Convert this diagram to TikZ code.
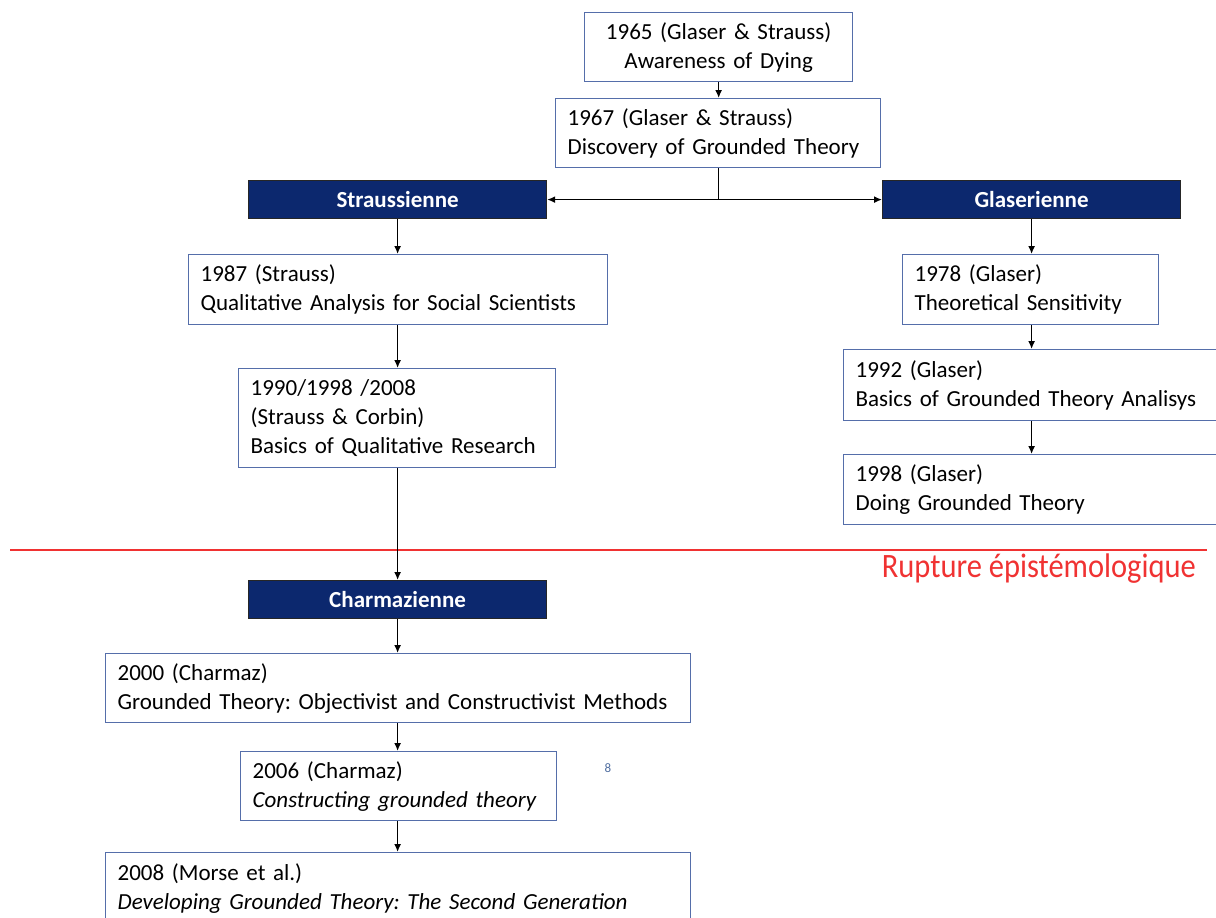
\documentclass[tikz,border=0pt]{standalone}
\usepackage{fontspec}
\setmainfont{Carlito}
\usetikzlibrary{arrows.meta}
\definecolor{navy}{RGB}{12,40,110}
\definecolor{boxblue}{RGB}{85,110,170}
\definecolor{rupred}{RGB}{240,50,50}
\definecolor{pgnum}{RGB}{80,110,160}
\frenchspacing
\begin{document}
\begin{tikzpicture}[x=1pt,y=-1pt,
  every node/.style={font=\fontsize{23}{29}\selectfont},
  pubbox/.style={draw=boxblue, line width=1.3pt, fill=white, inner xsep=12pt, inner ysep=0pt, anchor=north west, align=left},
  schoolbox/.style={draw=black!85, fill=navy, text=white, line width=1.2pt, anchor=north west, inner sep=0pt,
    minimum width=298pt, minimum height=38pt, font=\fontsize{23}{26}\selectfont\bfseries},
  arr/.style={-{Latex[length=8pt,width=7pt]}, line width=1.4pt, black},
]
\useasboundingbox (0,0) rectangle (1216,918);

% publication boxes
\node[pubbox, align=center, minimum width=268pt, minimum height=69pt, text width=244pt] (b1965) at (584,12)
  {1965 (Glaser \& Strauss)\\Awareness of Dying};
\node[pubbox, minimum width=325pt, minimum height=69pt, text width=301pt] (b1967) at (555,98)
  {1967 (Glaser \& Strauss)\\Discovery of Grounded Theory};

\node[schoolbox] (straus) at (248,180) {Straussienne};
\node[schoolbox] (glas) at (882,180) {Glaserienne};

\node[pubbox, minimum width=419pt, minimum height=70pt, text width=395pt] (b1987) at (188,254)
  {1987 (Strauss)\\Qualitative Analysis for Social Scientists};
\node[pubbox, minimum width=317pt, minimum height=99pt, text width=293pt] (b1990) at (238,368)
  {1990/1998 /2008\\(Strauss \& Corbin)\\Basics of Qualitative Research};

\node[pubbox, minimum width=256pt, minimum height=70pt, text width=232pt] (b1978) at (902,254)
  {1978 (Glaser)\\Theoretical Sensitivity};
\node[pubbox, minimum width=373pt, minimum height=71pt, text width=349pt] (b1992) at (843,349)
  {1992 (Glaser)\\Basics of Grounded Theory Analisys};
\node[pubbox, minimum width=373pt, minimum height=70pt, text width=349pt] (b1998) at (843,454)
  {1998 (Glaser)\\Doing Grounded Theory};

% rupture line
\draw[rupred, line width=1.5pt] (10,550) -- (1207,550);
\node[anchor=north east, text=rupred, inner sep=0pt, yscale=1.12, font=\fontsize{30.5}{32}\selectfont] (rupt) at (1196,554) {Rupture épistémologique};

\node[schoolbox] (charm) at (248,580) {Charmazienne};

\node[pubbox, minimum width=585pt, minimum height=69pt, text width=561pt] (b2000) at (105,653)
  {2000 (Charmaz)\\Grounded Theory: Objectivist and Constructivist Methods};
\node[pubbox, minimum width=316pt, minimum height=69pt, text width=292pt] (b2006) at (240,751)
  {2006 (Charmaz)\\\textit{Constructing grounded theory}};
\node[pubbox, minimum width=585pt, minimum height=72pt, text width=561pt] (b2008) at (105,852)
  {2008 (Morse et al.)\\\textit{Developing Grounded Theory: The Second Generation}};

\node[text=pgnum, inner sep=0pt, font=\fontsize{13}{14}\selectfont] (pg) at (608,768) {8};

% connectors
\draw[arr] (b1965.south) -- (b1965.south |- b1967.north);
\coordinate (split) at (b1967.south |- straus.east);
\draw[line width=1.3pt] (b1967.south) -- (split);
\draw[arr] (split) -- (straus.east);
\draw[arr] (split) -- (glas.west);
\draw[arr] (straus.south) -- (straus.south |- b1987.north);
\draw[arr] (straus.south |- b1987.south) -- (straus.south |- b1990.north);
\draw[arr] (straus.south |- b1990.south) -- (charm.north);
\draw[arr] (charm.south) -- (charm.south |- b2000.north);
\draw[arr] (charm.south |- b2000.south) -- (charm.south |- b2006.north);
\draw[arr] (charm.south |- b2006.south) -- (charm.south |- b2008.north);
\draw[arr] (glas.south) -- (glas.south |- b1978.north);
\draw[arr] (glas.south |- b1978.south) -- (glas.south |- b1992.north);
\draw[arr] (glas.south |- b1992.south) -- (glas.south |- b1998.north);
\end{tikzpicture}
\end{document}
